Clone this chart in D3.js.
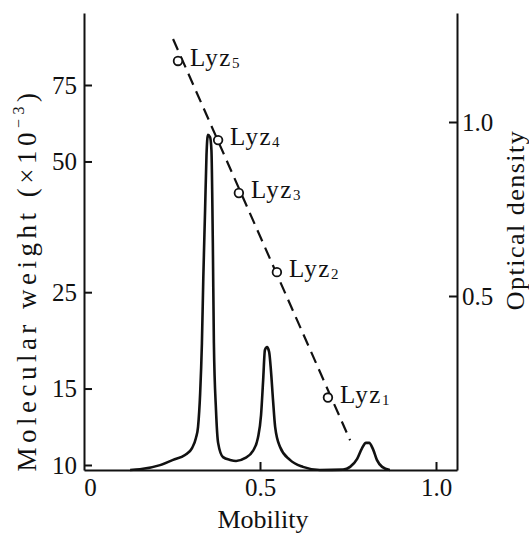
<!DOCTYPE html>
<html lang="en">
  <head>
    <meta charset="utf-8">
    <title>Mobility</title>
    <script src="https://d3js.org/d3.v7.min.js"></script>
    <style type="text/css">
      body { margin: 0; background: #fff; }
      text { font-family: "Liberation Serif", "DejaVu Serif", serif; fill: #111; }
      .axis path, .axis line { stroke: #111; stroke-width: 2; }
      .axis text { font-size: 25px; }
    </style>
  </head>
  <body>

  <svg width="529" height="533" id="svg1"></svg>

  <script>
    // densitometer trace (optical density vs mobility)
    var traceMobility = [0.131, 0.159, 0.216, 0.253, 0.287, 0.307, 0.318, 0.324, 0.330, 0.335, 0.339, 0.344, 0.348, 0.352,
      0.358, 0.362, 0.366, 0.369, 0.375, 0.381, 0.395, 0.415, 0.432, 0.457, 0.480, 0.494, 0.503, 0.509, 0.514, 0.520,
      0.526, 0.531, 0.537, 0.543, 0.557, 0.585, 0.622, 0.670, 0.736, 0.756, 0.776, 0.790, 0.801, 0.810, 0.821, 0.832,
      0.847, 0.869];
    var traceOD = [0, 0.002, 0.014, 0.029, 0.043, 0.063, 0.092, 0.124, 0.221, 0.365, 0.555, 0.747, 0.905, 0.963,
      0.957, 0.920, 0.652, 0.365, 0.172, 0.078, 0.037, 0.029, 0.026, 0.034, 0.055, 0.092, 0.158, 0.259, 0.345, 0.353,
      0.339, 0.287, 0.201, 0.124, 0.066, 0.029, 0.009, 0, 0.001, 0.009, 0.032, 0.063, 0.078, 0.078, 0.060, 0.029,
      0.009, 0];

    // marker oligomers (mobility vs molecular weight x 10^-3)
    var markerNames = ["Lyz1", "Lyz2", "Lyz3", "Lyz4", "Lyz5"];
    var markerMobility = [0.693, 0.548, 0.440, 0.381, 0.267];
    var markerMW = [14.3, 27.8, 42.3, 56.0, 85.2];

    // fitted standard line ends
    var fitMobility = [0.253, 0.756];
    var fitMW = [95.7, 11.4];

    var mobilityTicks = [0, 0.5, 1.0];
    var mwTicks = [10, 15, 25, 50, 75];
    var odTicks = [0.5, 1.0];

    var svg = d3.select("#svg1");
    var plotL = 84, plotR = 457, plotT = 13, plotB = 470;

    var xScale = d3.scaleLinear().domain([0, 1]).range([plotL, 436]);
    xScale.domain([0, xScale.invert(plotR)]).range([plotL, plotR]);

    var yMW = d3.scaleLog().domain([10, 75]).range([465, 85]);
    yMW.domain([yMW.invert(plotB), yMW.invert(plotT)]).range([plotB, plotT]);

    var yOD = d3.scaleLinear().domain([0, 1]).range([plotB, 122]);
    yOD.domain([0, yOD.invert(plotT)]).range([plotB, plotT]);

    var xAxis = d3.axisBottom(xScale).tickValues(mobilityTicks).tickSize(-8).tickSizeOuter(0).tickPadding(8)
      .tickFormat(function(d) { return d === 0 ? "0" : d.toFixed(1); });
    var yAxisL = d3.axisLeft(yMW).tickValues(mwTicks).tickSize(-8).tickSizeOuter(0).tickPadding(7)
      .tickFormat(function(d) { return d; });
    var yAxisR = d3.axisRight(yOD).tickValues(odTicks).tickSize(-8).tickSizeOuter(0).tickPadding(5)
      .tickFormat(d3.format(".1f"));

    var gx = svg.append("g").attr("class", "axis").attr("transform", `translate(0, ${plotB})`).call(xAxis);
    svg.append("g").attr("class", "axis").attr("transform", `translate(${plotL}, 0)`).call(yAxisL);
    svg.append("g").attr("class", "axis").attr("transform", `translate(${plotR}, 0)`).call(yAxisR);
    svg.selectAll(".axis text").attr("fill", "#111");
    svg.selectAll(".axis .tick line").filter(function(d) { return d === 0; }).remove();
    gx.selectAll(".tick text").filter(function(d) { return d === 0; }).attr("dx", 6);

    // trace
    var trace = traceMobility.map(function(m, i) { return [m, traceOD[i]]; });
    var line = d3.line()
      .x(function(d) { return xScale(d[0]); })
      .y(function(d) { return yOD(d[1]); })
      .curve(d3.curveMonotoneX);
    svg.append("path").datum(trace)
      .attr("d", line)
      .attr("fill", "none")
      .attr("stroke", "#111")
      .attr("stroke-width", 2.6)
      .attr("stroke-linejoin", "round");

    // dashed standard line
    svg.append("line")
      .attr("x1", xScale(fitMobility[0])).attr("y1", yMW(fitMW[0]))
      .attr("x2", xScale(fitMobility[1])).attr("y2", yMW(fitMW[1]))
      .attr("stroke", "#111")
      .attr("stroke-width", 2.2)
      .attr("stroke-dasharray", "12,7");

    var markers = markerNames.map(function(n, i) { return {name: n, m: markerMobility[i], mw: markerMW[i]}; });

    svg.selectAll(".pt").data(markers).enter().append("circle").attr("class", "pt")
      .attr("cx", function(d) { return xScale(d.m); })
      .attr("cy", function(d) { return yMW(d.mw); })
      .attr("r", 4.3)
      .attr("fill", "#fff")
      .attr("stroke", "#111")
      .attr("stroke-width", 1.8);

    var labels = svg.selectAll(".lbl").data(markers).enter().append("text").attr("class", "lbl")
      .attr("x", function(d) { return xScale(d.m) + 12; })
      .attr("y", function(d) { return yMW(d.mw) + 5; })
      .attr("font-size", "25px")
      .attr("letter-spacing", "1.5px");
    labels.append("tspan").text(function(d) { return d.name.slice(0, 3); });
    labels.append("tspan").attr("font-size", "15px").attr("dy", 2)
      .text(function(d) { return d.name.slice(3); });

    // axis titles
    svg.append("text")
      .attr("x", 263).attr("y", 528)
      .attr("text-anchor", "middle")
      .attr("font-size", "26px")
      .text("Mobility");

    var tl = svg.append("text")
      .attr("transform", "translate(36, 280) rotate(-90)")
      .attr("text-anchor", "middle")
      .attr("font-size", "27px")
      .attr("letter-spacing", "4.5px");
    tl.append("tspan").text("Molecular weight (\u00d710");
    tl.append("tspan").attr("font-size", "16px").attr("dy", -12).text("\u22123");
    tl.append("tspan").attr("dy", 12).text(")");

    svg.append("text")
      .attr("transform", "translate(524, 220) rotate(-90)")
      .attr("text-anchor", "middle")
      .attr("font-size", "26px")
      .attr("letter-spacing", "1.5px")
      .text("Optical density");
  </script>

  </body>
</html>
